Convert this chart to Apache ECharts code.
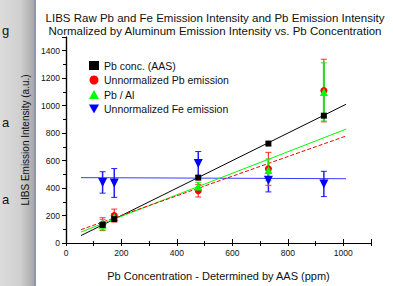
<!DOCTYPE html>
<html>
<head>
<meta charset="utf-8">
<script src="https://cdn.jsdelivr.net/npm/echarts@6/dist/echarts.min.js"></script>
<style>
  html, body { margin: 0; padding: 0; background: #fff; }
  #chart { width: 393px; height: 286px; }
</style>
</head>
<body>
<div id="chart"></div>
<script>
// Pb concentration by AAS (ppm) — x positions of the samples
const pbAAS = [132, 174, 477, 730, 930];

// series values
const pbConc = [132, 174, 476, 724, 927];
const pbRaw = [137, 200, 380, 540, 1110];
const pbRawErr = [47, 47, 45, 120, 228];
const pbAl = [133, 187, 412, 532, 1100];
const pbAlErr = [38, 25, 30, 80, 212];
const feRaw = [441, 437, 578, 457, 430];
const feRawErr = [78, 105, 88, 85, 92];

// fitted lines (end points)
const pbConcFit = [[54, 54], [1010, 1010]];
const pbRawFit = [[54, 97], [1010, 779]];
const pbAlFit = [[54, 80], [1010, 829]];
const feFit = [[54, 476], [1010, 468]];

const names = ['Pb conc. (AAS)', 'Unnormalized Pb emission', 'Pb / Al', 'Unnormalized Fe emission'];
const downTri = 'path://M0,0 L10,0 L5,9 Z';

function pairs(ys) { return pbAAS.map((x, i) => [x, ys[i]]); }

function errorBars(ys, errs, color, width, z) {
  return {
    type: 'custom', z: z, silent: true,
    data: pbAAS.map((x, i) => [x, ys[i] - errs[i], ys[i] + errs[i]]),
    encode: { x: 0, y: [1, 2] },
    renderItem: function (params, api) {
      const lo = api.coord([api.value(0), api.value(1)]);
      const hi = api.coord([api.value(0), api.value(2)]);
      const hw = 3;
      const st = { stroke: color, lineWidth: width };
      return {
        type: 'group',
        children: [
          { type: 'line', shape: { x1: lo[0], y1: lo[1], x2: hi[0], y2: hi[1] }, style: st },
          { type: 'line', shape: { x1: lo[0] - hw, y1: lo[1], x2: lo[0] + hw, y2: lo[1] }, style: { stroke: color, lineWidth: 1 } },
          { type: 'line', shape: { x1: hi[0] - hw, y1: hi[1], x2: hi[0] + hw, y2: hi[1] }, style: { stroke: color, lineWidth: 1 } }
        ]
      };
    }
  };
}

function fitLine(data, color, type, z) {
  return {
    type: 'line', data: data, z: z, symbol: 'none', silent: true,
    lineStyle: { color: color, width: 1, type: type }
  };
}

const font = 'Liberation Sans, Arial, sans-serif';
const plain = (v) => String(v);
const chart = echarts.init(document.getElementById('chart'), null, { renderer: 'svg' });

chart.setOption({
  animation: false,
  backgroundColor: '#fff',
  title: {
    text: 'LIBS Raw Pb and Fe Emission Intensity and Pb Emission Intensity\nNormalized by Aluminum Emission Intensity vs. Pb Concentration',
    left: 210, top: 6, textAlign: 'center',
    textStyle: { fontFamily: font, fontSize: 11.5, fontWeight: 'normal', color: '#111', lineHeight: 13 }
  },
  graphic: [
    {
      type: 'rect', shape: { x: 0, y: 0, width: 34, height: 286 }, z: 0,
      style: {
        fill: new echarts.graphic.LinearGradient(0, 0, 1, 0, [
          { offset: 0, color: '#dcdcdc' },
          { offset: 0.6, color: '#d0d0d0' },
          { offset: 1, color: '#a8a8a8' }
        ])
      }
    },
    { type: 'rect', shape: { x: 34, y: 0, width: 2, height: 286 }, style: { fill: '#8c97ab' }, z: 0 },
    { type: 'text', left: 2, top: 24, style: { text: 'g', fontSize: 13, fontFamily: font, fill: '#111' } },
    { type: 'text', left: 2, top: 116, style: { text: 'a', fontSize: 13, fontFamily: font, fill: '#111' } },
    { type: 'text', left: 2, top: 193, style: { text: 'a', fontSize: 13, fontFamily: font, fill: '#111' } }
  ],
  legend: {
    data: names, orient: 'vertical', left: 84, top: 55,
    itemWidth: 10, itemHeight: 9, itemGap: 3.5,
    textStyle: { fontFamily: font, fontSize: 10.5, color: '#111' }
  },
  grid: { left: 66, right: 22, top: 37, bottom: 29 },
  xAxis: [
    {
      type: 'value', min: 0, max: 1100, interval: 200,
      name: 'Pb Concentration - Determined by AAS (ppm)', nameLocation: 'middle', nameGap: 27,
      nameTextStyle: { fontFamily: font, fontSize: 11, color: '#111' },
      axisLine: { onZero: false, lineStyle: { color: '#000', width: 1.2 } },
      axisTick: { inside: true, length: 4, lineStyle: { color: '#000' } },
      minorTick: { show: true, splitNumber: 2, length: 2, lineStyle: { color: '#000' } },
      axisLabel: { fontFamily: font, fontSize: 8.5, color: '#111', margin: 5, showMaxLabel: false, formatter: plain },
      splitLine: { show: false }
    },
    {
      type: 'value', min: 0, max: 1100, interval: 100, position: 'top',
      axisLine: { lineStyle: { color: '#000', width: 1.2 } },
      axisTick: { inside: true, length: 3, lineStyle: { color: '#000' } },
      axisLabel: { show: false }, splitLine: { show: false }
    }
  ],
  yAxis: [
    {
      type: 'value', min: 0, max: 1500, interval: 200,
      name: 'LIBS Emission Intensity (a.u.)', nameLocation: 'middle', nameGap: 28,
      nameTextStyle: { fontFamily: font, fontSize: 10, color: '#111' },
      axisLine: { onZero: false, lineStyle: { color: '#000', width: 1.2 } },
      axisTick: { length: 4, lineStyle: { color: '#000' } },
      minorTick: { show: true, splitNumber: 2, length: 2, lineStyle: { color: '#000' } },
      axisLabel: { fontFamily: font, fontSize: 8.5, color: '#111', margin: 6, showMaxLabel: false, formatter: plain },
      splitLine: { show: false }
    },
    {
      type: 'value', min: 0, max: 1500, interval: 100, position: 'right',
      axisLine: { lineStyle: { color: '#000', width: 1.2 } },
      axisTick: { inside: true, length: 3, lineStyle: { color: '#000' } },
      axisLabel: { show: false }, splitLine: { show: false }
    }
  ],
  series: [
    fitLine(feFit, '#3a3aff', 'solid', 2),
    fitLine(pbConcFit, '#000', 'solid', 2),
    fitLine(pbAlFit, '#00ff00', 'solid', 2),
    fitLine(pbRawFit, '#ff0000', 'dashed', 2),
    errorBars(feRaw, feRawErr, '#2020ff', 1.5, 3),
    errorBars(pbRaw, pbRawErr, '#ff3030', 1.2, 3),
    errorBars(pbAl, pbAlErr, '#22dd22', 2, 4),
    {
      name: names[0], type: 'scatter', data: pairs(pbConc), z: 6,
      symbol: 'rect', symbolSize: 6, itemStyle: { color: '#000', opacity: 1 }
    },
    {
      name: names[1], type: 'scatter', data: pairs(pbRaw), z: 5,
      symbol: 'circle', symbolSize: 7, itemStyle: { color: '#ff0000', opacity: 1 }
    },
    {
      name: names[2], type: 'scatter', data: pairs(pbAl), z: 5,
      symbol: 'triangle', symbolSize: 8, itemStyle: { color: '#00ff00', opacity: 1 }
    },
    {
      name: names[3], type: 'scatter', data: pairs(feRaw), z: 5,
      symbol: downTri, symbolSize: 9, itemStyle: { color: '#0000ff', opacity: 1 }
    }
  ]
});
</script>
</body>
</html>
